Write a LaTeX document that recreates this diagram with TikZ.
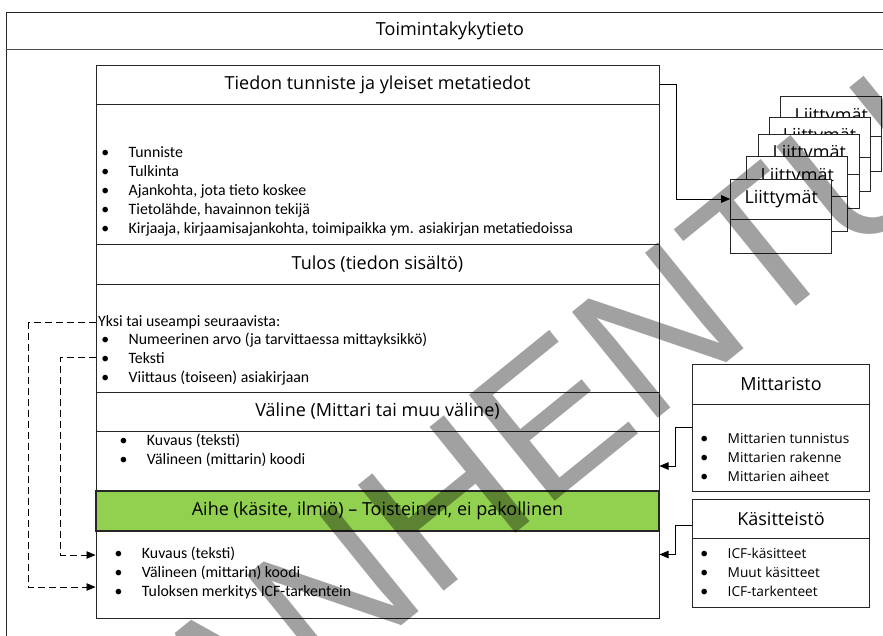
\documentclass[tikz,border=0pt]{standalone}
\usepackage{fontspec}
\setmainfont{Carlito}
\newfontfamily\segoe{Open Sans}
\newfontfamily\leimafont{Liberation Sans}
\usetikzlibrary{arrows.meta}
\definecolor{aihegreen}{HTML}{92D050}
\newcommand{\hfont}{\segoe\fontsize{18}{22}\selectfont}
\newcommand{\lfont}{\fontsize{15.8}{19}\selectfont}
\newcommand{\sfont}{\segoe\fontsize{13.7}{19}\selectfont}
\newcommand{\bul}[1]{\strut\makebox[0pt]{\rmfamily\fontsize{15.8}{19}\selectfont\textbullet}\hspace{23.5pt}#1}
\tikzset{
  osa/.style={draw=black!85, line width=1pt, minimum width=563pt, inner sep=0pt, fill=white},
  otsake/.style={osa, font=\hfont},
  lista/.style={anchor=north west, align=left, inner sep=0pt, font=\lfont},
  slista/.style={lista, font=\sfont},
  liit/.style={draw=black!85, line width=1pt, fill=white, minimum width=101pt, inner sep=0pt, font=\hfont},
  sivu/.style={draw=black!85, line width=1pt, fill=white, minimum width=176.6pt, inner sep=0pt, font=\hfont},
  yht/.style={line width=0.8pt, -{Triangle[length=9pt,width=7.5pt]}},
  katko/.style={yht, dash pattern=on 7pt off 4pt},
  leima/.style={font={\leimafont\fontsize{198}{198}\selectfont}, text=black, text opacity=0.37, inner sep=0pt}
}
\begin{document}
\begin{tikzpicture}[x=1pt,y=-1pt]
\useasboundingbox (0,0) rectangle (883,635);
\clip (0,0) rectangle (883,635);
% outer frame
\draw[black!85, line width=1pt] (6,12) rectangle (900,660);
\draw[black!70, line width=1pt] (6,49) -- (900,49);
\node[font=\hfont] (otsikko) at (450,31) {Toimintakykytieto};
% main column
\node[otsake, minimum height=39pt] (tunniste) at (377.5,84.5) {Tiedon tunniste ja yleiset metatiedot};
\node[osa, minimum height=140pt] (tunniste-b) at (377.5,174) {};
\node[otsake, minimum height=40pt] (tulos) at (377.5,264) {Tulos (tiedon sisältö)};
\node[osa, minimum height=108pt] (tulos-b) at (377.5,338) {};
\node[otsake, minimum height=39pt] (valine) at (377.5,411.5) {Väline (Mittari tai muu väline)};
\node[osa, minimum height=60pt] (valine-b) at (377.5,461) {};
\node[otsake, fill=aihegreen, line width=1.5pt, minimum height=40pt] (aihe) at (377.5,511) {Aihe (käsite, ilmiö) – Toisteinen, ei pakollinen};
\node[osa, minimum height=87pt] (aihe-b) at (377.5,574.5) {};
\node[lista] (tunniste-l) at (105,143.5) {\bul{Tunniste}\\\bul{Tulkinta}\\\bul{Ajankohta, jota tieto koskee}\\
  \bul{Tietolähde, havainnon tekijä}\\\bul{Kirjaaja, kirjaamisajankohta, toimipaikka ym. asiakirjan metatiedoissa}};
\node[font=\lfont, inner sep=0pt, anchor=west] (yksi) at (98,322.5) {Yksi tai useampi seuraavista:};
\node[lista] (tulos-l) at (105,330.5) {\bul{Numeerinen arvo (ja tarvittaessa mittayksikkö)}\\\bul{Teksti}\\\bul{Viittaus (toiseen) asiakirjaan}};
\node[lista] (valine-l) at (123.3,432.2) {\bul{Kuvaus (teksti)}\\\bul{Välineen (mittarin) koodi}};
\node[lista] (aihe-l) at (118.3,545.2) {\bul{Kuvaus (teksti)}\\\bul{Välineen (mittarin) koodi}\\\bul{Tuloksen merkitys ICF-tarkentein}};
% side boxes
\node[sivu, minimum height=40pt] (mitta) at (781,384.3) {Mittaristo};
\node[sivu, minimum height=87.4pt] (mitta-b) at (781,448) {};
\node[slista] (mitta-l) at (704,429.5) {\bul{Mittarien tunnistus}\\\bul{Mittarien rakenne}\\\bul{Mittarien aiheet}};
\node[sivu, minimum height=39.3pt] (kasit) at (781,518.65) {Käsitteistö};
\node[sivu, minimum height=69.4pt] (kasit-b) at (781,573) {};
\node[slista] (kasit-l) at (704,545.2) {\bul{ICF-käsitteet}\\\bul{Muut käsitteet}\\\bul{ICF-tarkenteet}};
% liittymat stack, back to front
\node[liit, minimum height=40pt] (liit5) at (831.2,116.7) {Liittymät};
\node[liit, minimum height=34.5pt] (liit5-b) at (831.2,153.95) {};
\node[liit, minimum height=40pt] (liit4) at (819.5,137.3) {Liittymät};
\node[liit, minimum height=34.5pt] (liit4-b) at (819.5,174.55) {};
\node[liit, minimum height=40pt] (liit3) at (809.2,154.3) {Liittymät};
\node[liit, minimum height=34.5pt] (liit3-b) at (809.2,191.55) {};
\node[liit, minimum height=40pt] (liit2) at (797.2,176.7) {Liittymät};
\node[liit, minimum height=34.5pt] (liit2-b) at (797.2,213.95) {};
\node[liit, minimum height=40pt] (liit1) at (781.2,199) {Liittymät};
\node[liit, minimum height=34.5pt] (liit1-b) at (781.2,236.25) {};
% connectors
\draw[yht] (tunniste.east) -- ++(17,0) |- (liit1.west);
\draw[yht] ([yshift=-24pt]mitta-b.north west) -- ++(-17,0) |- ([yshift=-5pt]valine-b.east);
\draw[yht] ([yshift=-7pt]kasit.west) -- ++(-17,0) |- ([yshift=20pt]aihe-b.east);
\draw[katko] (yksi.west -| tulos-b.west) -- ++(-67,0) |- ([yshift=-12.5pt]aihe-b.west);
\draw[katko] ([yshift=-19pt]tulos-b.west) -- ++(-35,0) |- ([yshift=19.5pt]aihe-b.west);
% watermark
\node[leima, rotate=39] (leima) at (660,330) {VANHENTUNUT};
\end{tikzpicture}
\end{document}
